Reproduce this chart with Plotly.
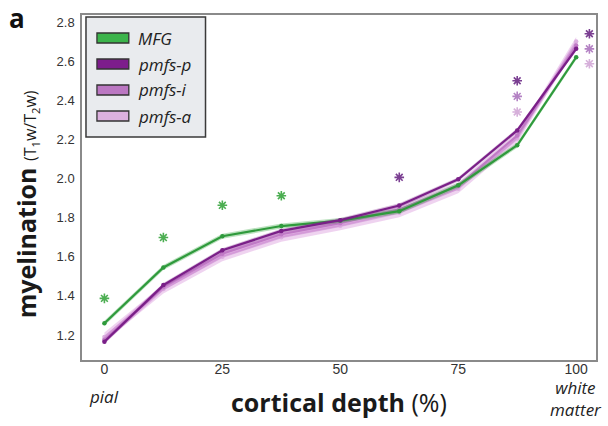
import plotly.graph_objects as go

# ---------------- data ----------------
depth = [0, 12.5, 25, 37.5, 50, 62.5, 75, 87.5, 100]
series_names = ["MFG", "pmfs-p", "pmfs-i", "pmfs-a"]
mfg = [1.26, 1.545, 1.705, 1.757, 1.785, 1.833, 1.965, 2.17, 2.62]
pmfs_p = [1.165, 1.455, 1.633, 1.732, 1.787, 1.862, 1.996, 2.246, 2.663]
pmfs_i = [1.175, 1.445, 1.615, 1.715, 1.772, 1.842, 1.962, 2.22, 2.68]
pmfs_a = [1.19, 1.435, 1.60, 1.70, 1.758, 1.825, 1.948, 2.205, 2.70]
err_mfg = [0.013] * 9
err_p = [0.011] * 9
err_i = [0.018] * 9
err_a = [0.023] * 9

star_mfg_x = [0, 12.5, 25, 37.5]
star_mfg_y = [1.387, 1.698, 1.863, 1.912]
star_p_x = [62.5, 87.5, 102.8]
star_p_y = [2.006, 2.50, 2.74]
star_i_x = [87.5, 102.8]
star_i_y = [2.42, 2.663]
star_a_x = [87.5, 102.8]
star_a_y = [2.34, 2.587]

x_ticks = [0, 25, 50, 75, 100]
y_ticks = [1.2, 1.4, 1.6, 1.8, 2.0, 2.2, 2.4, 2.6, 2.8]

# ---------------- styles ----------------
line_col = {"MFG": "#2f9a3c", "pmfs-p": "#7a1f88", "pmfs-i": "#c07ac6", "pmfs-a": "#dcb0e0"}
band_col = {"MFG": "rgba(60,170,70,0.35)", "pmfs-p": "rgba(130,40,140,0.30)",
            "pmfs-i": "rgba(200,120,205,0.40)", "pmfs-a": "rgba(225,175,228,0.55)"}
patch_col = {"MFG": "#3cb44b", "pmfs-p": "#7d1d8c", "pmfs-i": "#bb77c2", "pmfs-a": "#dcb0de"}
star_col = {"MFG": "#4cae52", "pmfs-p": "#7b3f92", "pmfs-i": "#b482c4", "pmfs-a": "#d6b0da"}

data = {"MFG": (mfg, err_mfg), "pmfs-p": (pmfs_p, err_p),
        "pmfs-i": (pmfs_i, err_i), "pmfs-a": (pmfs_a, err_a)}
stars = {"MFG": (star_mfg_x, star_mfg_y), "pmfs-p": (star_p_x, star_p_y),
         "pmfs-i": (star_i_x, star_i_y), "pmfs-a": (star_a_x, star_a_y)}

fig = go.Figure()
draw_order = ["pmfs-a", "pmfs-i", "MFG", "pmfs-p"]
for name in draw_order:
    y, e = data[name]
    up = [v + d for v, d in zip(y, e)]
    lo = [v - d for v, d in zip(y, e)]
    fig.add_trace(go.Scatter(x=depth + depth[::-1], y=up + lo[::-1], fill="toself",
                             fillcolor=band_col[name], line=dict(width=0),
                             hoverinfo="skip", showlegend=False, mode="lines"))
    fig.add_trace(go.Scatter(x=depth, y=y, mode="lines+markers", name=name,
                             line=dict(color=line_col[name], width=2.2),
                             marker=dict(size=4.5, color=line_col[name]),
                             showlegend=False))
for name in series_names:
    sx, sy = stars[name]
    fig.add_trace(go.Scatter(x=sx, y=sy, mode="markers", showlegend=False,
                             marker=dict(symbol="asterisk-open", size=8, color=star_col[name],
                                         line=dict(color=star_col[name], width=1.6))))

# ---------------- layout ----------------
L, R, T, B = 82, 598, 15, 360
W, H = 608, 426
pw, ph = R - L, B - T

def px(x):
    return (x - L) / pw

def py(y):
    return (B - y) / ph

shapes = [dict(type="rect", xref="paper", yref="paper", x0=px(86), x1=px(206),
               y0=py(137), y1=py(17), fillcolor="#e9ebee",
               line=dict(color="#3a3a3a", width=1.5), layer="above")]
annotations = []
item_y = [38, 64, 90, 116]
for name, yy in zip(series_names, item_y):
    shapes.append(dict(type="rect", xref="paper", yref="paper", x0=px(97), x1=px(129),
                       y0=py(yy + 5), y1=py(yy - 5), fillcolor=patch_col[name],
                       line=dict(color="#333333", width=1.3), layer="above"))
    annotations.append(dict(xref="paper", yref="paper", x=px(136), y=py(yy),
                            xanchor="left", yanchor="middle", showarrow=False,
                            text="<i>" + name + "</i>",
                            font=dict(family="Open Sans", size=17, color="#222222")))

annotations += [
    dict(xref="paper", yref="paper", x=px(17), y=py(18), text="<b>a</b>", showarrow=False,
         xanchor="center", yanchor="middle", font=dict(family="Open Sans", size=26, color="#111")),
    dict(xref="paper", yref="paper", x=px(340), y=py(402),
         text="<b>cortical depth</b> (%)", showarrow=False, xanchor="center", yanchor="middle",
         font=dict(family="Open Sans", size=25, color="#1a1a1a")),
    dict(xref="paper", yref="paper", x=px(26), y=py(204),
         text="<b>myelination</b> <span style='font-size:16px'>(T<sub>1</sub>w/T<sub>2</sub>w)</span>",
         showarrow=False, textangle=-90, xanchor="center", yanchor="middle",
         font=dict(family="Open Sans", size=25, color="#1a1a1a")),
    dict(x=0, xref="x", yref="paper", y=py(396), text="<i>pial</i>", showarrow=False,
         xanchor="center", yanchor="middle", font=dict(family="Open Sans", size=17, color="#222")),
    dict(x=100, xref="x", yref="paper", y=py(398), text="<i>white<br>matter</i>", showarrow=False,
         xanchor="center", yanchor="middle",
         font=dict(family="Open Sans", size=17, color="#222")),
]

fig.update_layout(
    width=W, height=H,
    margin=dict(l=L, r=W - R, t=T, b=H - B),
    paper_bgcolor="white", plot_bgcolor="white",
    showlegend=False,
    shapes=shapes, annotations=annotations,
    xaxis=dict(range=[-4.75, 104.2], tickvals=x_ticks, ticktext=[str(v) for v in x_ticks],
               showgrid=False, zeroline=False, showline=True, mirror=True,
               linecolor="#8a8a8a", linewidth=1.5, ticks="", ticklabelstandoff=-5,
               tickfont=dict(family="Liberation Sans", size=14, color="#333")),
    yaxis=dict(range=[1.072, 2.836], tickvals=y_ticks,
               ticktext=[f"{v:.1f}" for v in y_ticks],
               showgrid=False, zeroline=False, showline=True, mirror=True,
               linecolor="#8a8a8a", linewidth=1.5, ticks="", ticklabelstandoff=3,
               tickfont=dict(family="Liberation Sans", size=13, color="#333")),
)

fig.write_html("out.html")
